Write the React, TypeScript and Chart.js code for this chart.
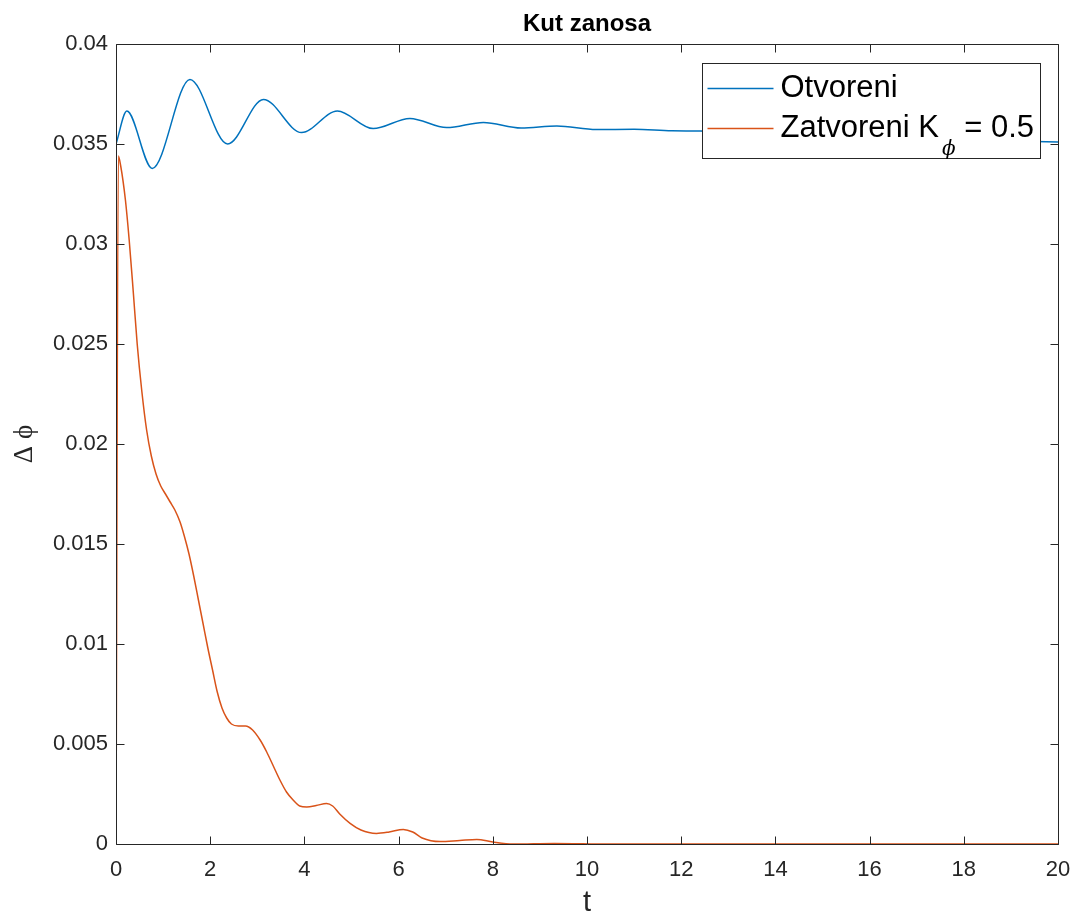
import React, { useEffect, useRef } from 'react';
import { Chart, registerables } from 'chart.js';

Chart.register(...registerables);

const titleText = 'Kut zanosa';
const xTitle = 't';
const yTitle = 'Δ ϕ';
const nameOpen = 'Otvoreni';
const nameClosedHead = 'Zatvoreni K';
const nameClosedSub = 'ϕ';
const nameClosedTail = ' = 0.5';

const xTickValues = [0, 2, 4, 6, 8, 10, 12, 14, 16, 18, 20];
const xTickLabels = ['0', '2', '4', '6', '8', '10', '12', '14', '16', '18', '20'];
const yTickValues = [0, 0.005, 0.01, 0.015, 0.02, 0.025, 0.03, 0.035, 0.04];
const yTickLabels = ['0', '0.005', '0.01', '0.015', '0.02', '0.025', '0.03', '0.035', '0.04'];

// Otvoreni (open loop)
const tOpen = [0, 0.23, 0.77, 1.57, 2.37, 3.13, 3.94, 4.7, 5.46, 6.24, 7.02, 7.8, 8.6, 9.36, 10.2, 11.0, 11.8, 12.4, 14, 16, 18, 20];
const vOpen = [0.035, 0.03665, 0.03378, 0.03823, 0.035, 0.03723, 0.03557, 0.03665, 0.03577, 0.03628, 0.03582, 0.03608, 0.0358, 0.0359, 0.03572, 0.03574, 0.03566, 0.03565, 0.0355, 0.0353, 0.0352, 0.0351];

// Zatvoreni (closed loop)
const tClosed = [
  0, 0.05, 0.1, 0.2, 0.28, 0.37, 0.45, 0.55, 0.65, 0.75, 0.85, 0.95, 1.05, 1.15, 1.25,
  1.36, 1.45, 1.55, 1.65, 1.75, 1.85, 1.95, 2.05, 2.15, 2.25, 2.35, 2.45, 2.6, 2.75, 2.9,
  3.06, 3.2, 3.34, 3.48, 3.62, 3.76, 3.9, 4.05, 4.25, 4.47, 4.6, 4.75, 4.97, 5.2, 5.53,
  5.8, 6.1, 6.3, 6.5, 6.88, 7.3, 7.66, 8.0, 8.43, 9.3, 10.5, 20,
];
const vClosed = [
  0, 0.0344, 0.0339, 0.0322, 0.0302, 0.0275, 0.025, 0.0226, 0.0207, 0.0194, 0.0185, 0.0179, 0.0175, 0.0171, 0.0167,
  0.0161, 0.0154, 0.0145, 0.0134, 0.0122, 0.011, 0.0098, 0.0087, 0.0076, 0.0068, 0.0063, 0.006, 0.0059, 0.0059, 0.0057,
  0.0052, 0.0046, 0.0039, 0.0032, 0.0026, 0.0022, 0.0019, 0.00185, 0.00192, 0.00203, 0.0019, 0.0015, 0.00103, 0.0007, 0.00053,
  0.0006, 0.00073, 0.0006, 0.0003, 0.00012, 0.00018, 0.00023, 0.0001, 0.0, 0.00003, 0.0, 0.0,
];

const colorOpen = '#0072BD';
const colorClosed = '#D95319';
const axisColor = '#262626';
const fontFamily = '"Liberation Sans", Arial, Helvetica, sans-serif';

const boxPlugin = {
  id: 'matlabBox',
  afterDatasetsDraw(chart: any) {
    const { ctx, chartArea: a, scales } = chart;
    ctx.save();
    ctx.strokeStyle = axisColor;
    ctx.lineWidth = 1;
    ctx.beginPath();
    const L = Math.round(a.left) + 0.5;
    const R = Math.round(a.right) + 0.5;
    const T = Math.round(a.top) + 0.5;
    const B = Math.round(a.bottom) + 0.5;
    ctx.rect(L, T, R - L, B - T);
    const tl = 8;
    xTickValues.forEach((v) => {
      const x = Math.round(scales.x.getPixelForValue(v)) + 0.5;
      ctx.moveTo(x, B);
      ctx.lineTo(x, B - tl);
      ctx.moveTo(x, T);
      ctx.lineTo(x, T + tl);
    });
    yTickValues.forEach((v) => {
      const y = Math.round(scales.y.getPixelForValue(v)) + 0.5;
      ctx.moveTo(L, y);
      ctx.lineTo(L + tl, y);
      ctx.moveTo(R, y);
      ctx.lineTo(R - tl, y);
    });
    ctx.stroke();
    ctx.restore();
  },
};

const legendPlugin = {
  id: 'matlabLegend',
  afterDraw(chart: any) {
    const { ctx, chartArea: a } = chart;
    const right = Math.round(a.right) - 18 + 0.5;
    const top = Math.round(a.top) + 19 + 0.5;
    const w = 338;
    const h = 95;
    const left = right - w;
    ctx.save();
    ctx.fillStyle = '#ffffff';
    ctx.fillRect(left, top, w, h);
    ctx.strokeStyle = axisColor;
    ctx.lineWidth = 1;
    ctx.strokeRect(left, top, w, h);
    const rows = [top + 25, top + 65];
    const colors = [colorOpen, colorClosed];
    rows.forEach((ry, i) => {
      ctx.strokeStyle = colors[i];
      ctx.lineWidth = 1.5;
      ctx.beginPath();
      ctx.moveTo(left + 5, ry);
      ctx.lineTo(left + 71, ry);
      ctx.stroke();
    });
    const tx = left + 78;
    ctx.fillStyle = '#000000';
    ctx.textBaseline = 'middle';
    ctx.textAlign = 'left';
    ctx.font = `31px ${fontFamily}`;
    ctx.fillText(nameOpen, tx, rows[0]);
    ctx.fillText(nameClosedHead, tx, rows[1]);
    const headW = ctx.measureText(nameClosedHead).width;
    ctx.font = `italic 20px "DejaVu Serif", "Liberation Serif", serif`;
    ctx.fillText(nameClosedSub, tx + headW + 3, rows[1] + 21);
    const subW = ctx.measureText(nameClosedSub).width;
    ctx.font = `31px ${fontFamily}`;
    ctx.fillText(nameClosedTail, tx + headW + 3 + subW, rows[1]);
    ctx.restore();
  },
};

export default function App() {
  const canvasRef = useRef<HTMLCanvasElement | null>(null);

  useEffect(() => {
    if (!canvasRef.current) return;
    const chart = new Chart(canvasRef.current, {
      type: 'line',
      data: {
        datasets: [
          {
            label: nameOpen,
            data: tOpen.map((t, i) => ({ x: t, y: vOpen[i] })),
            borderColor: colorOpen,
            borderWidth: 1.5,
            pointRadius: 0,
            fill: false,
            cubicInterpolationMode: 'monotone',
          },
          {
            label: nameClosedHead + nameClosedSub + nameClosedTail,
            data: tClosed.map((t, i) => ({ x: t, y: vClosed[i] })),
            borderColor: colorClosed,
            borderWidth: 1.5,
            pointRadius: 0,
            fill: false,
            cubicInterpolationMode: 'monotone',
          },
        ],
      },
      options: {
        responsive: false,
        animation: false,
        devicePixelRatio: 1,
        layout: { padding: { left: 0, right: 21, top: 0, bottom: 0 } },
        plugins: {
          legend: { display: false },
          tooltip: { enabled: false },
          title: {
            display: true,
            text: titleText,
            fullSize: false,
            color: '#000000',
            font: { family: fontFamily, size: 24, weight: 'bold', lineHeight: 1.2 },
            padding: { top: 9.6, bottom: 5.6 },
          },
        },
        scales: {
          x: {
            type: 'linear',
            min: 0,
            max: 20,
            afterBuildTicks: (scale: any) => {
              scale.ticks = xTickValues.map((v) => ({ value: v }));
            },
            afterFit: (scale: any) => {
              scale.height = 73;
              scale.paddingLeft = 0;
              scale.paddingRight = 0;
            },
            grid: { display: false, drawTicks: false },
            border: { display: false },
            ticks: {
              color: axisColor,
              font: { family: fontFamily, size: 22 },
              padding: 13,
              maxRotation: 0,
              autoSkip: false,
              callback: (v: any) => xTickLabels[xTickValues.indexOf(v)],
            },
            title: {
              display: true,
              text: xTitle,
              color: axisColor,
              font: { family: fontFamily, size: 29, lineHeight: 1 },
              padding: { top: 0, bottom: 0 },
            },
          },
          y: {
            type: 'linear',
            min: 0,
            max: 0.04,
            afterBuildTicks: (scale: any) => {
              scale.ticks = yTickValues.map((v) => ({ value: v }));
            },
            afterFit: (scale: any) => {
              scale.width = 116;
              scale.paddingTop = 0;
              scale.paddingBottom = 0;
            },
            grid: { display: false, drawTicks: false },
            border: { display: false },
            ticks: {
              color: axisColor,
              font: { family: fontFamily, size: 22 },
              padding: 8,
              autoSkip: false,
              callback: (v: any) => yTickLabels[yTickValues.indexOf(v)],
            },
            title: {
              display: true,
              text: yTitle,
              color: axisColor,
              font: { family: '"Liberation Serif", "DejaVu Serif", serif', size: 27, lineHeight: 1 },
              padding: { top: 11, bottom: 0 },
            },
          },
        },
      },
      plugins: [boxPlugin, legendPlugin],
    } as any);
    return () => chart.destroy();
  }, []);

  return (
    <div style={{ position: 'absolute', left: 0, top: 0, width: 1079, height: 917, background: '#ffffff' }}>
      <canvas ref={canvasRef} width={1079} height={917} style={{ display: 'block' }} />
    </div>
  );
}
